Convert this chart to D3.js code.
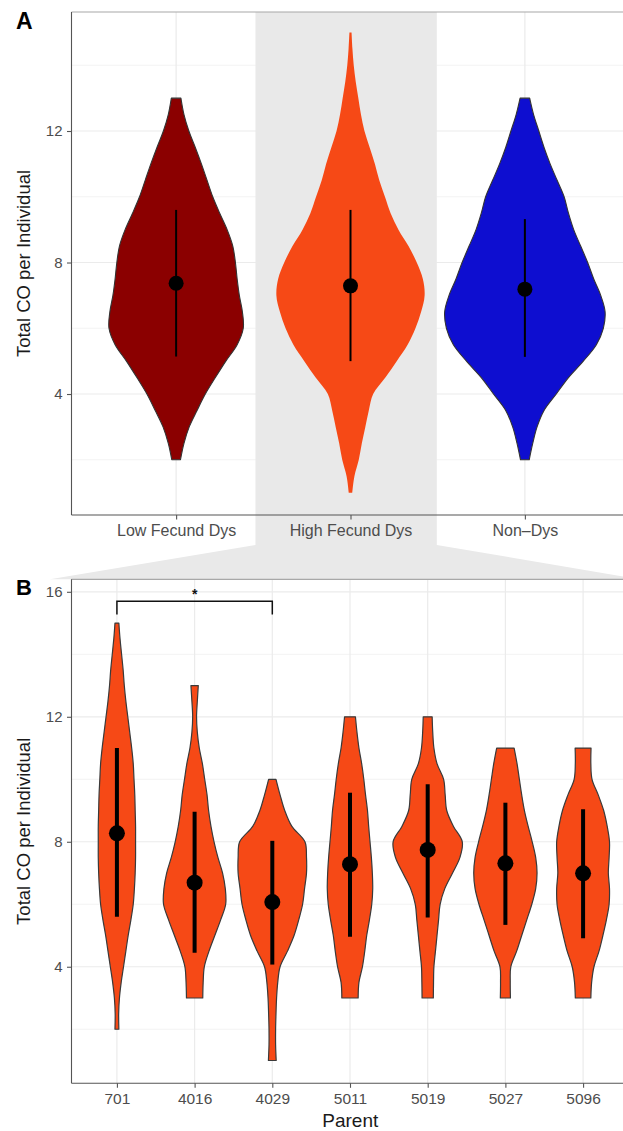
<!DOCTYPE html>
<html><head><meta charset="utf-8">
<script src="https://cdn.jsdelivr.net/npm/d3@7"></script>
<style>
body{margin:0;background:#fff}
svg{display:block}
text{font-family:"Liberation Sans",Arial,Helvetica,sans-serif}
</style>
</head><body>
<svg id="c" width="623" height="1131"></svg>
<script>
// ---------------- DATA ----------------
// Panel A
const groupsA = ["Low Fecund Dys", "High Fecund Dys", "Non\u2013Dys"];
const colorsA = ["#8b0000", "#f64916", "#0e0ed0"];
const outlinedA = [true, false, true];
const minA = [2, 1, 2];
const densStep = 0.5;
// relative violin half-widths read at steps of 0.5 from each group's minimum
const densLow  = [0.05,0.09,0.15,0.24,0.335,0.45,0.57,0.70,0.77,0.76,0.725,0.70,0.68,0.65,0.585,0.50,0.42,0.355,0.29,0.22,0.146,0.09,0.055];
const densHigh = [0.02,0.045,0.095,0.13,0.17,0.21,0.26,0.40,0.53,0.655,0.745,0.81,0.85,0.83,0.76,0.665,0.55,0.46,0.395,0.33,0.28,0.22,0.16,0.12,0.09,0.06,0.037,0.022,0.012];
const densNon  = [0.05,0.09,0.14,0.22,0.36,0.50,0.67,0.82,0.90,0.92,0.87,0.79,0.72,0.64,0.56,0.50,0.45,0.37,0.29,0.22,0.16,0.10,0.055];
const meanA = [7.37, 7.29, 7.19];
const loA   = [5.14, 5.00, 5.13];
const hiA   = [9.60, 9.60, 9.32];
const yTicksA = [4, 8, 12];
const yMinorA = [2, 6, 10, 14];

// Panel B
const parents = ["701", "4016", "4029", "5011", "5019", "5027", "5096"];
const minB = [2, 3, 1, 3, 3, 3, 3];
const dens701  = [0.05,0.045,0.065,0.11,0.17,0.23,0.29,0.36,0.42,0.45,0.47,0.48,0.48,0.48,0.47,0.46,0.44,0.42,0.38,0.33,0.28,0.23,0.19,0.16,0.12,0.08,0.05];
const dens4016 = [0.21,0.22,0.25,0.37,0.52,0.67,0.80,0.79,0.72,0.60,0.50,0.42,0.36,0.32,0.26,0.20,0.12,0.07,0.05,0.07,0.095];
const dens4029 = [0.10,0.085,0.085,0.095,0.11,0.14,0.20,0.39,0.56,0.68,0.78,0.83,0.88,0.88,0.84,0.50,0.32,0.20,0.095];
const dens5011 = [0.21,0.23,0.32,0.38,0.43,0.50,0.56,0.585,0.575,0.55,0.515,0.48,0.45,0.40,0.355,0.30,0.23,0.18,0.14];
const dens5019 = [0.145,0.15,0.16,0.20,0.24,0.28,0.32,0.44,0.64,0.83,0.89,0.66,0.49,0.45,0.41,0.24,0.16,0.13,0.115];
const dens5027 = [0.13,0.125,0.14,0.29,0.42,0.55,0.68,0.78,0.815,0.78,0.69,0.585,0.49,0.42,0.36,0.30,0.225];
const dens5096 = [0.20,0.22,0.28,0.41,0.51,0.60,0.67,0.68,0.65,0.67,0.68,0.62,0.53,0.39,0.23,0.20,0.205];
const meanB = [8.27, 6.69, 6.07, 7.28, 7.74, 7.31, 6.99];
const loB   = [5.60, 4.45, 4.07, 4.96, 5.58, 5.34, 4.91];
const hiB   = [11.00, 8.96, 8.03, 9.57, 9.84, 9.25, 9.04];
const yTicksB = [4, 8, 12, 16];
const yMinorB = [2, 6, 10, 14];
const sigPair = ["701", "4029"];
const sigLabel = "*";
const sigBarY = 15.7, sigDropY = 15.27, sigTextY = 16.0;

const densA = [densLow, densHigh, densNon];
const densB = [dens701, dens4016, dens4029, dens5011, dens5019, dens5027, dens5096];

// ---------------- LAYOUT ----------------
const svg = d3.select("#c");
const PA = {left: 71.5, right: 629.5, top: 12, bottom: 515};
const PB = {left: 71.5, top: 579.3, bottom: 1083.3};
const gridMajor = "#ebebeb", gridMinor = "#f3f3f3";
const axisCol = "#555", tickTxt = "#4d4d4d";

const xA = d3.scalePoint().domain(groupsA).range([PA.left, PA.right]).padding(0.6);
const yA = d3.scaleLinear().domain([0.32, 15.62]).range([PA.bottom, PA.top]);
const wA = d3.scaleLinear().domain([0, 1]).range([0, xA.step() / 2]);

const xB = d3.scalePoint().domain(parents).range([70.3, 629.7]).padding(0.6);
const yB = d3.scaleLinear().domain([0.27, 16.4]).range([PB.bottom, PB.top]);
const wB = d3.scaleLinear().domain([0, 1]).range([0, xB.step() / 2]);

function grid(g, x, y, cats, major, minor, left, right, top, bottom) {
  minor.forEach(v => g.append("line").attr("x1", left).attr("x2", right)
    .attr("y1", y(v)).attr("y2", y(v)).attr("stroke", gridMinor).attr("stroke-width", 1));
  major.forEach(v => g.append("line").attr("x1", left).attr("x2", right)
    .attr("y1", y(v)).attr("y2", y(v)).attr("stroke", gridMajor).attr("stroke-width", 1.2));
  cats.forEach(c => g.append("line").attr("x1", x(c)).attr("x2", x(c))
    .attr("y1", top).attr("y2", bottom).attr("stroke", gridMajor).attr("stroke-width", 1.2));
}

function violin(g, cx, mn, dens, y, w, fill, stroke, sw) {
  const pts = dens.map((d, i) => ({v: mn + i * densStep, d}));
  const area = d3.area()
    .y(p => y(p.v))
    .x0(p => cx - w(p.d))
    .x1(p => cx + w(p.d))
    .curve(d3.curveCatmullRom.alpha(0.5));
  g.append("path").attr("d", area(pts)).attr("fill", fill)
    .attr("stroke", stroke).attr("stroke-width", sw).attr("stroke-linejoin", "round");
}

function summary(g, cx, m, lo, hi, y, lw, r) {
  g.append("line").attr("x1", cx).attr("x2", cx).attr("y1", y(lo)).attr("y2", y(hi))
    .attr("stroke", "#000").attr("stroke-width", lw);
  g.append("circle").attr("cx", cx).attr("cy", y(m)).attr("r", r).attr("fill", "#000");
}

function styleAxis(sel, fs) {
  sel.select(".domain").attr("stroke", axisCol).attr("stroke-width", 1.1);
  sel.selectAll(".tick line").attr("stroke", axisCol).attr("stroke-width", 1.1);
  sel.selectAll(".tick text").attr("fill", tickTxt).style("font-size", fs)
    .style("font-family", "'Liberation Sans', Arial, sans-serif");
}

// ---------------- PANEL A ----------------
const gGridA = svg.append("g");
grid(gGridA, xA, yA, groupsA, yTicksA, yMinorA, PA.left, 623, PA.top, PA.bottom);

// highlight band + connector to panel B
const hx = xA("High Fecund Dys");
const bandL = hx - 0.545 * xA.step(), bandR = hx + 0.495 * xA.step();
const bandBottom = 545;
svg.append("path")
  .attr("d", `M${bandL},${PA.top} L${bandR},${PA.top} L${bandR},${bandBottom} L640,${PB.top} L50,${PB.top} L${bandL},${bandBottom} Z`)
  .attr("fill", "#e9e9e9");

const gA = svg.append("g");
groupsA.forEach((c, i) => {
  violin(gA, xA(c), minA[i], densA[i], yA, wA, colorsA[i],
         outlinedA[i] ? "#333" : "none", outlinedA[i] ? 1.1 : 0);
  summary(gA, xA(c), meanA[i], loA[i], hiA[i], yA, 2, 7.5);
});

// borders / axes A
svg.append("line").attr("x1", PA.left).attr("x2", 623).attr("y1", PA.top).attr("y2", PA.top)
  .attr("stroke", "#a8a8a8").attr("stroke-width", 1.2);
const axYA = svg.append("g").attr("transform", `translate(${PA.left},0)`)
  .call(d3.axisLeft(yA).tickValues(yTicksA).tickSize(4.5).tickSizeOuter(0).tickPadding(4.5).tickFormat(d3.format("d")));
axYA.select(".domain").attr("d", `M0,${PA.top}V${PA.bottom}`);
styleAxis(axYA, "15px");
const axXA = svg.append("g").attr("transform", `translate(0,${PA.bottom})`)
  .call(d3.axisBottom(xA).tickSize(4.5).tickSizeOuter(0).tickPadding(5));
axXA.select(".domain").attr("d", `M${PA.left},0H623`);
styleAxis(axXA, "16px");

svg.append("text").attr("transform", `translate(30,${(PA.top + PA.bottom) / 2}) rotate(-90)`)
  .attr("text-anchor", "middle").style("font-size", "18.5px").attr("fill", "#1a1a1a")
  .text("Total CO per Individual");
svg.append("text").attr("x", 16).attr("y", 29).style("font-size", "23px")
  .style("font-weight", "bold").attr("fill", "#000").text("A");

// ---------------- PANEL B ----------------
const gGridB = svg.append("g");
grid(gGridB, xB, yB, parents, yTicksB, yMinorB, PB.left, 623, PB.top, PB.bottom);

const gB = svg.append("g");
parents.forEach((p, i) => {
  violin(gB, xB(p), minB[i], densB[i], yB, wB, "#f64916", "#3a3a3a", 1.2);
  summary(gB, xB(p), meanB[i], loB[i], hiB[i], yB, 4, 8);
});

// significance bracket
const bx1 = xB(sigPair[0]), bx2 = xB(sigPair[1]);
gB.append("path")
  .attr("d", `M${bx1},${yB(sigDropY)} V${yB(sigBarY)} H${bx2} V${yB(sigDropY)}`)
  .attr("fill", "none").attr("stroke", "#111").attr("stroke-width", 1.5);
gB.append("text").attr("x", (bx1 + bx2) / 2).attr("y", yB(sigTextY) + 7)
  .attr("text-anchor", "middle").style("font-size", "14px").style("font-weight", "bold")
  .attr("fill", "#111").text(sigLabel);

svg.append("line").attr("x1", PB.left).attr("x2", 623).attr("y1", PB.top).attr("y2", PB.top)
  .attr("stroke", "#a8a8a8").attr("stroke-width", 1.2);
const axYB = svg.append("g").attr("transform", `translate(${PB.left},0)`)
  .call(d3.axisLeft(yB).tickValues(yTicksB).tickSize(4.5).tickSizeOuter(0).tickPadding(4.5).tickFormat(d3.format("d")));
axYB.select(".domain").attr("d", `M0,${PB.top}V${PB.bottom}`);
styleAxis(axYB, "15px");
const axXB = svg.append("g").attr("transform", `translate(0,${PB.bottom})`)
  .call(d3.axisBottom(xB).tickSize(4.5).tickSizeOuter(0).tickPadding(5.5));
axXB.select(".domain").attr("d", `M${PB.left},0H623`);
styleAxis(axXB, "15.5px");

svg.append("text").attr("transform", `translate(30,${(PB.top + PB.bottom) / 2}) rotate(-90)`)
  .attr("text-anchor", "middle").style("font-size", "18.5px").attr("fill", "#1a1a1a")
  .text("Total CO per Individual");
svg.append("text").attr("x", (PB.left + 629) / 2).attr("y", 1127)
  .attr("text-anchor", "middle").style("font-size", "19px").attr("fill", "#1a1a1a")
  .text("Parent");
svg.append("text").attr("x", 16).attr("y", 595).style("font-size", "22px")
  .style("font-weight", "bold").attr("fill", "#000").text("B");
</script>
</body></html>
